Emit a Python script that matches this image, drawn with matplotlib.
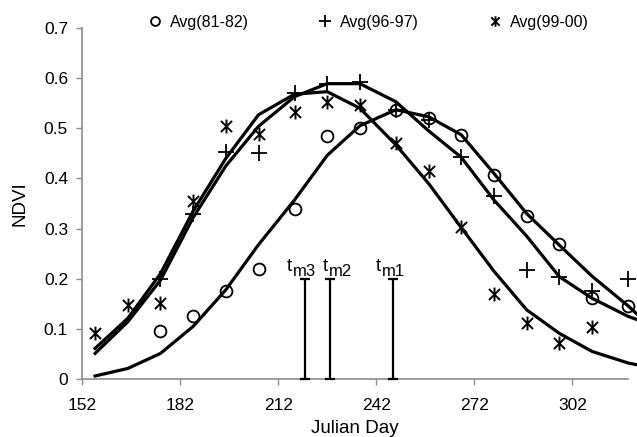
import numpy as np
import matplotlib.pyplot as plt
from matplotlib.path import Path

plt.rcParams['font.family'] = ['Liberation Sans', 'DejaVu Sans']

# composite days (markers)
days = [156, 166, 176, 186, 196, 206, 217, 227, 237, 248, 258, 268, 278, 288, 298, 308, 319]

# observed NDVI
obs_8182 = [None, None, 0.096, 0.126, 0.176, 0.22, 0.34, 0.484, 0.50, 0.537, 0.52, 0.487, 0.407, 0.325, 0.269, 0.161, 0.146]
obs_9697 = [None, None, 0.199, 0.329, 0.452, 0.45, 0.57, 0.589, 0.593, 0.537, 0.517, 0.442, 0.364, 0.218, 0.203, 0.176, 0.199]
obs_9900 = [0.091, 0.148, 0.151, 0.354, 0.504, 0.489, 0.533, 0.553, 0.546, 0.470, 0.415, 0.304, 0.170, 0.111, 0.071, 0.103, None]

# fitted curves
fit_days = days + [322]
fit_8182 = [0.006, 0.021, 0.051, 0.105, 0.178, 0.268, 0.357, 0.446, 0.505, 0.537, 0.523, 0.487, 0.41, 0.33, 0.267, 0.205, 0.146, 0.128]
fit_9697 = [0.051, 0.114, 0.197, 0.322, 0.425, 0.504, 0.563, 0.589, 0.589, 0.553, 0.495, 0.442, 0.357, 0.285, 0.204, 0.161, 0.125, 0.118]
fit_9900 = [0.061, 0.121, 0.21, 0.335, 0.44, 0.527, 0.568, 0.573, 0.54, 0.467, 0.39, 0.302, 0.215, 0.138, 0.091, 0.055, 0.032, 0.028]

# timing of maximum
tm_days = [220.2, 228.0, 247.2]
tm_labels = ['m3', 'm2', 'm1']
tm_height = 0.2
tm_shift = [-13, -5.4, -12.4]  # label offset from bar, points

xticks = [152, 182, 212, 242, 272, 302]
yticks = [0, 0.1, 0.2, 0.3, 0.4, 0.5, 0.6, 0.7]
ylabels = ['0', '0.1', '0.2', '0.3', '0.4', '0.5', '0.6', '0.7']

# asterisk marker: X with a vertical bar
star = Path([(-1, -1), (1, 1), (-1, 1), (1, -1), (0, -1.25), (0, 1.25)],
            [Path.MOVETO, Path.LINETO, Path.MOVETO, Path.LINETO, Path.MOVETO, Path.LINETO])


def pts(xs, ys):
    xx = [x for x, y in zip(xs, ys) if y is not None]
    yy = [y for y in ys if y is not None]
    return xx, yy


fig = plt.figure(figsize=(6.37, 4.37), dpi=100)
ax = fig.add_axes([82/637, 58/437, 546/637, 351/437])

for f in [fit_8182, fit_9697, fit_9900]:
    ax.plot(fit_days, f, color='black', lw=2.3, clip_on=False, zorder=2)

x, y = pts(days, obs_8182)
h1, = ax.plot(x, y, 'o', mfc='none', mec='black', ms=8.5, mew=1.3, clip_on=False, zorder=3)
x, y = pts(days, obs_9697)
h2, = ax.plot(x, y, '+', color='black', ms=11, mew=1.3, clip_on=False, zorder=3)
x, y = pts(days, obs_9900)
h3, = ax.plot(x, y, ls='none', marker=star, color='black', ms=10, mew=1.4, clip_on=False, zorder=3)

ax.errorbar(tm_days, [tm_height/2]*3, yerr=tm_height/2, fmt='none', ecolor='black',
            elinewidth=1.6, capsize=3.8, capthick=1.6, clip_on=False, zorder=4)
for d, lab, sh in zip(tm_days, tm_labels, tm_shift):
    ax.annotate('t', (d, tm_height), xytext=(sh, 5.5), textcoords='offset points',
                ha='left', va='baseline', fontsize=13.5)
    ax.annotate(lab, (d, tm_height), xytext=(sh + 4.6, 2.2), textcoords='offset points',
                ha='left', va='baseline', fontsize=12)

ax.set_xlim(152, 319)
ax.set_ylim(0, 0.7)
ax.set_xticks(xticks)
ax.set_yticks(yticks)
ax.set_yticklabels(ylabels)
for s in ['top', 'right']:
    ax.spines[s].set_visible(False)
for s in ['left', 'bottom']:
    ax.spines[s].set_color('#8c8c8c')
    ax.spines[s].set_linewidth(1.2)
ax.tick_params(axis='both', direction='out', length=4, width=1, color='#8c8c8c', labelsize=12.5)
ax.tick_params(axis='x', pad=10)
ax.tick_params(axis='y', pad=6)
ax.set_xlabel('Julian Day', fontsize=13.5, labelpad=5)
ax.set_ylabel('NDVI', fontsize=13.5, labelpad=11)

fig.legend([h1, h2, h3], ['Avg(81-82)', 'Avg(96-97)', 'Avg(99-00)'], loc='center left',
           bbox_to_anchor=(148/637, 1 - 22/437), ncol=3, frameon=False, fontsize=11.5,
           markerscale=0.75, handlelength=0.9, handletextpad=0.5, columnspacing=4.3,
           borderpad=0, borderaxespad=0)

fig.savefig('out.png', dpi=100)
